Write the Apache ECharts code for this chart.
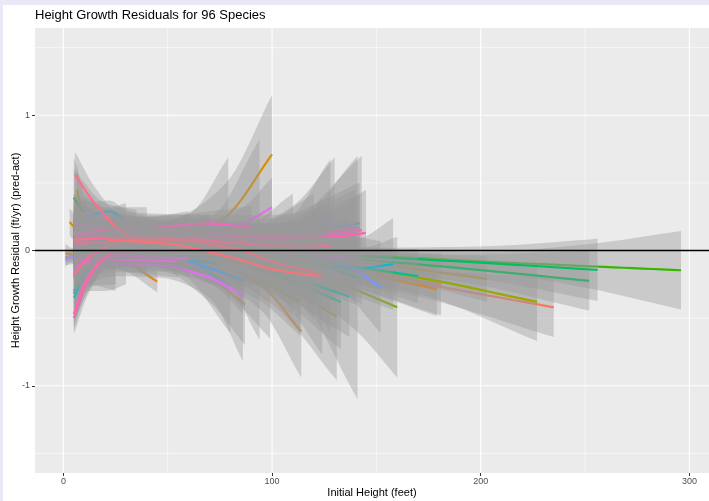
<!DOCTYPE html>
<html>
<head>
<meta charset="utf-8">
<title>Height Growth Residuals for 96 Species</title>
<script src="https://cdn.jsdelivr.net/npm/echarts@6/dist/echarts.min.js"></script>
<style>
  html, body { margin: 0; padding: 0; background: #E8E8F6; }
  #chart { position: absolute; left: 3px; top: 5px; width: 706px; height: 496px; background: #fff; }
</style>
</head>
<body>
<div id="chart"></div>
<script>
// Axis breaks
const xMajor = [0, 100, 200, 300];
const xMinor = [50, 150, 250];
const yMajor = [-1, 0, 1];
const yMinor = [-1.5, -0.5, 0.5, 1.5];

// Per-species smoothed fit: initial heights (ft) where the fit is sampled,
// fitted residual (ft/yr) and half-width of the confidence band, row by row.
const speciesHeights = [
  [5,30,60,90],
  [20,60,110,170,235],
  [5,40,70,87],
  [10,60,120,181],
  [5,20,40,60],
  [5,50,94,114],
  [5,28,45],
  [20,60,100,140,179],
  [1,4,8],
  [5,25,50,75],
  [30,56,78,100],
  [10,50,100,150,203],
  [3,10,25],
  [5,13,27,40],
  [20,60,100,131],
  [5,20,35],
  [1,5,10],
  [10,50,78,99],
  [6.4,9,15,30],
  [5,30,60,90,120],
  [5,40,70],
  [15,60,110,170,227],
  [10,60,94,113.5],
  [5,20,45,70],
  [40,80,110,140,160],
  [5,15,30],
  [5,30,60,100,140],
  [5,20,40],
  [10,50,90,130],
  [60,100,150,200,250,296],
  [5,15,30],
  [5,40,80],
  [5,10,20],
  [5,30,60,90],
  [40,80,130,190,252],
  [5,25,50],
  [50,90,140,200,256],
  [5,20,40,60],
  [5,40,80,120],
  [5,12,25],
  [30,70,100,140,170],
  [20,60,100,133],
  [5,20,40],
  [20,60,100,137],
  [30,70,110,141],
  [20,60,100,142],
  [5,10,20,30],
  [5,30,55],
  [5,12,25,40],
  [5,30,60,100],
  [5,20,40,60],
  [5,12,25],
  [40,80,120,142,158],
  [5,20,35],
  [7,15,22,30,40,51,70],
  [10,30,56,80],
  [5,15,30,50],
  [5,30,60,90,120],
  [5,12,20],
  [5,25,50,75],
  [10,40,60,79],
  [5,20,40],
  [5,30,60,90],
  [10,40,72,86],
  [5,20,45],
  [30,70,110,133,152],
  [5,25,50,80,110],
  [5,15,30],
  [1,3,5],
  [10,25,50,80,110,140],
  [5,20,40,70],
  [5,12,25,40],
  [20,60,90,110,130],
  [5,30,60],
  [5,20,40,60],
  [40,80,110,136],
  [6.5,25,46,70,86],
  [30,55,75,86,100],
  [5,20,40,60],
  [5,25,55],
  [10,40,70,94],
  [5,15,30,50],
  [5,30,60,90,120],
  [5,20,40,60],
  [10,40,70,110,142],
  [20,50,80,104,143],
  [5,20,45,70,90],
  [5,12,20,30,45],
  [30,70,100,128,145],
  [5,10,18,30,50,70],
  [5,20,50,80,110],
  [5,12,25,40],
  [5,40,80,104,128],
  [5.5,15,30,45],
  [21,50,80,104,120],
  [21,50,80,104,124]
];

const speciesFit = [
  [0.05,0.08,0.05,-0.02],
  [0.1,0.05,-0.08,-0.24,-0.42],
  [0.1,0.0,-0.2,-0.4],
  [0.05,0.0,-0.1,-0.25],
  [0.15,0.1,0.05,0.0],
  [0.05,0.0,-0.25,-0.6],
  [0.02,-0.07,-0.23],
  [0.08,0.02,-0.06,-0.16,-0.285],
  [-0.02,-0.03,-0.04],
  [0.1,0.05,0.0,-0.05],
  [-0.02,0.05,0.25,0.71],
  [0.1,0.05,-0.02,-0.1,-0.21],
  [0.21,0.1,0.05],
  [0.0,-0.01,-0.05,-0.06],
  [0.05,0.0,-0.2,-0.49],
  [0.3,0.2,0.1],
  [-0.05,-0.05,-0.06],
  [0.05,0.0,-0.12,-0.24],
  [0.45,0.3,0.15,0.08],
  [0.0,0.05,0.02,-0.05,-0.1],
  [0.05,0.1,0.08],
  [0.1,0.03,-0.07,-0.2,-0.38],
  [0.05,-0.05,-0.22,-0.38],
  [0.1,0.12,0.05,-0.05],
  [0.1,0.0,-0.12,-0.29,-0.42],
  [-0.1,0.0,0.05],
  [0.05,0.05,0.0,-0.05,-0.1],
  [0.2,0.15,0.1],
  [0.05,0.02,-0.02,-0.08],
  [0.02,0.0,-0.04,-0.08,-0.115,-0.146],
  [0.15,0.1,0.05],
  [0.0,0.03,0.0],
  [0.39,0.28,0.15],
  [0.1,0.05,0.0,-0.05],
  [0.05,0.02,-0.05,-0.13,-0.225],
  [0.05,0.08,0.05],
  [0.05,0.0,-0.04,-0.09,-0.144],
  [0.12,0.08,0.03,0.0],
  [0.0,0.0,-0.05,-0.15],
  [-0.2,-0.1,0.0],
  [0.08,0.05,-0.02,-0.12,-0.19],
  [0.05,0.0,-0.17,-0.38],
  [0.22,0.22,0.2],
  [0.05,0.0,-0.15,-0.34],
  [0.1,0.05,-0.05,-0.2],
  [0.15,0.1,0.12,0.2],
  [-0.3,-0.15,0.0,0.05],
  [0.08,0.05,0.05],
  [-0.32,-0.1,0.05,0.08],
  [0.02,0.02,-0.02,-0.08],
  [-0.05,0.0,0.03,0.02],
  [-0.35,-0.15,0.0],
  [0.05,-0.02,-0.1,-0.13,-0.1],
  [0.02,0.04,0.03],
  [0.21,0.27,0.29,0.22,0.18,0.17,0.12],
  [0.05,0.0,-0.05,-0.27],
  [-0.05,-0.02,0.0,0.02],
  [0.1,0.08,0.05,0.0,-0.05],
  [-0.18,-0.05,0.02],
  [0.05,0.0,-0.05,-0.1],
  [0.1,0.1,0.12,0.2],
  [0.05,0.0,-0.02],
  [0.0,-0.02,-0.04,-0.08],
  [0.05,0.0,-0.14,-0.22],
  [0.15,0.1,0.05],
  [0.08,0.05,-0.01,-0.09,-0.27],
  [0.05,0.08,0.05,0.0,-0.03],
  [0.0,0.05,0.08],
  [-0.07,-0.05,-0.04],
  [0.28,0.21,0.19,0.18,0.17,0.2],
  [0.05,0.1,0.12,0.1],
  [0.12,0.15,0.12,0.08],
  [0.1,0.05,0.08,0.13,0.25],
  [-0.05,0.0,0.02],
  [0.2,0.18,0.16,0.15],
  [0.05,0.02,-0.02,-0.05],
  [-0.11,-0.1,-0.11,-0.2,-0.33],
  [0.12,0.12,0.15,0.2,0.32],
  [0.0,-0.04,-0.05,-0.06],
  [-0.07,-0.07,-0.08],
  [0.1,0.12,0.1,0.08],
  [0.2,0.18,0.14,0.1],
  [0.12,0.1,0.08,0.05,0.02],
  [-0.12,-0.05,0.0,0.03],
  [0.12,0.06,0.06,0.1,0.17],
  [0.15,0.15,0.12,0.08,0.15],
  [0.12,0.15,0.17,0.2,0.17],
  [-0.5,-0.22,-0.05,0.05,0.1],
  [0.1,0.1,0.1,0.1,0.13],
  [-0.47,-0.25,-0.08,0.03,0.08,0.1],
  [0.05,0.06,0.08,0.06,0.02],
  [-0.18,-0.05,0.05,0.1],
  [0.08,0.1,0.06,0.035,0.035],
  [0.56,0.35,0.12,0.05],
  [0.08,0.08,0.02,-0.1,-0.16],
  [0.08,0.05,-0.05,-0.15,-0.19]
];

const speciesBand = [
  [0.22,0.1,0.1,0.2],
  [0.15,0.09,0.08,0.1,0.22],
  [0.22,0.1,0.18,0.3],
  [0.15,0.09,0.1,0.23],
  [0.22,0.1,0.1,0.18],
  [0.22,0.1,0.18,0.34],
  [0.14,0.08,0.08],
  [0.14,0.09,0.08,0.12,0.2],
  [0.07,0.05,0.06],
  [0.18,0.1,0.1,0.18],
  [0.14,0.2,0.25,0.44],
  [0.14,0.09,0.07,0.08,0.17],
  [0.1,0.1,0.12],
  [0.12,0.08,0.09,0.12],
  [0.14,0.1,0.2,0.47],
  [0.3,0.15,0.2],
  [0.06,0.05,0.08],
  [0.14,0.1,0.2,0.41],
  [0.2,0.14,0.1,0.14],
  [0.14,0.09,0.09,0.12,0.22],
  [0.14,0.1,0.15],
  [0.14,0.09,0.08,0.12,0.29],
  [0.14,0.1,0.15,0.25],
  [0.22,0.1,0.1,0.2],
  [0.14,0.1,0.15,0.3,0.52],
  [0.18,0.1,0.14],
  [0.14,0.09,0.09,0.12,0.3],
  [0.22,0.1,0.12],
  [0.14,0.09,0.12,0.3],
  [0.1,0.08,0.06,0.07,0.16,0.29],
  [0.25,0.12,0.14],
  [0.14,0.09,0.14],
  [0.3,0.15,0.15],
  [0.16,0.09,0.1,0.2],
  [0.14,0.09,0.07,0.1,0.22],
  [0.16,0.09,0.12],
  [0.12,0.08,0.06,0.12,0.23],
  [0.16,0.09,0.09,0.14],
  [0.14,0.09,0.1,0.25],
  [0.2,0.15,0.3],
  [0.14,0.09,0.08,0.12,0.2],
  [0.14,0.1,0.15,0.35],
  [0.2,0.1,0.12],
  [0.14,0.1,0.15,0.3],
  [0.16,0.12,0.25,0.9],
  [0.14,0.1,0.12,0.3],
  [0.15,0.15,0.3,0.3],
  [0.16,0.09,0.12],
  [0.2,0.2,0.1,0.12],
  [0.14,0.09,0.1,0.2],
  [0.16,0.09,0.09,0.14],
  [0.2,0.12,0.25],
  [0.12,0.1,0.15,0.22,0.34],
  [0.12,0.09,0.1],
  [0.15,0.09,0.08,0.08,0.08,0.09,0.15],
  [0.14,0.09,0.12,0.34],
  [0.14,0.09,0.09,0.12],
  [0.14,0.09,0.09,0.12,0.22],
  [0.15,0.15,0.12],
  [0.14,0.09,0.1,0.17],
  [0.14,0.1,0.15,0.49],
  [0.14,0.09,0.12],
  [0.14,0.09,0.1,0.2],
  [0.14,0.09,0.12,0.25],
  [0.16,0.09,0.12],
  [0.12,0.09,0.1,0.2,0.34],
  [0.14,0.09,0.09,0.12,0.45],
  [0.16,0.09,0.14],
  [0.05,0.04,0.05],
  [0.12,0.08,0.08,0.08,0.1,0.25],
  [0.16,0.09,0.09,0.16],
  [0.16,0.09,0.09,0.12],
  [0.12,0.09,0.1,0.2,0.44],
  [0.14,0.09,0.12],
  [0.16,0.09,0.09,0.14],
  [0.12,0.1,0.15,0.3],
  [0.16,0.09,0.09,0.15,0.49],
  [0.12,0.09,0.09,0.12,0.22],
  [0.14,0.09,0.09,0.14],
  [0.14,0.09,0.12],
  [0.14,0.09,0.15,0.74],
  [0.2,0.09,0.09,0.12],
  [0.14,0.09,0.09,0.12,0.4],
  [0.16,0.09,0.09,0.16],
  [0.14,0.09,0.09,0.12,0.25],
  [0.12,0.09,0.09,0.12,0.55],
  [0.16,0.09,0.08,0.09,0.16],
  [0.12,0.1,0.08,0.08,0.1],
  [0.12,0.09,0.1,0.18,0.32],
  [0.12,0.1,0.08,0.08,0.08,0.12],
  [0.14,0.08,0.08,0.09,0.2],
  [0.14,0.09,0.08,0.1],
  [0.14,0.08,0.09,0.15,0.64],
  [0.17,0.12,0.1,0.12],
  [0.1,0.08,0.08,0.15,0.35],
  [0.1,0.08,0.09,0.2,0.58]
];

const FONT = '"Liberation Sans", Arial, Helvetica, sans-serif';

// Evenly spaced HCL hues (chroma 100, luminance 65), one per species
function hclHex(h, c, l) {
  const hr = h * Math.PI / 180;
  const U = c * Math.cos(hr), V = c * Math.sin(hr);
  const Xn = 0.95047, Yn = 1, Zn = 1.08883;
  const den = Xn + 15 * Yn + 3 * Zn;
  const un = 4 * Xn / den, vn = 9 * Yn / den;
  const Y = l > 8 ? Yn * Math.pow((l + 16) / 116, 3) : Yn * l / 903.3;
  const up = U / (13 * l) + un, vp = V / (13 * l) + vn;
  const X = Y * 9 * up / (4 * vp);
  const Z = Y * (12 - 3 * up - 20 * vp) / (4 * vp);
  const lin = [
    3.2404542 * X - 1.5371385 * Y - 0.4985314 * Z,
    -0.9692660 * X + 1.8760108 * Y + 0.0415560 * Z,
    0.0556434 * X - 0.2040259 * Y + 1.0572252 * Z
  ];
  return '#' + lin.map(v => {
    v = v <= 0.0031308 ? 12.92 * v : 1.055 * Math.pow(v, 1 / 2.4) - 0.055;
    v = Math.max(0, Math.min(1, v));
    return Math.round(v * 255).toString(16).padStart(2, '0');
  }).join('');
}
const nSpecies = speciesHeights.length;
const palette = speciesHeights.map((_, i) => hclHex(15 + 360 * i / nSpecies, 100, 65));

// Monotone cubic through pixel points (sorted by x) for a smooth stroke
function smoothPixels(pts, seg) {
  const n = pts.length;
  if (n < 3) return pts.slice();
  const dx = [], m = [];
  for (let i = 0; i < n - 1; i++) {
    dx[i] = pts[i + 1][0] - pts[i][0];
    m[i] = (pts[i + 1][1] - pts[i][1]) / dx[i];
  }
  const t = new Array(n);
  t[0] = m[0];
  t[n - 1] = m[n - 2];
  for (let i = 1; i < n - 1; i++) {
    if (m[i - 1] * m[i] <= 0) { t[i] = 0; continue; }
    const w1 = 2 * dx[i] + dx[i - 1], w2 = dx[i] + 2 * dx[i - 1];
    t[i] = (w1 + w2) / (w1 / m[i - 1] + w2 / m[i]);
  }
  const out = [];
  for (let i = 0; i < n - 1; i++) {
    const h = dx[i], y0 = pts[i][1], y1 = pts[i + 1][1];
    for (let k = 0; k < seg; k++) {
      const s = k / seg, s2 = s * s, s3 = s2 * s;
      const y = (2 * s3 - 3 * s2 + 1) * y0 + (s3 - 2 * s2 + s) * h * t[i]
              + (-2 * s3 + 3 * s2) * y1 + (s3 - s2) * h * t[i + 1];
      out.push([pts[i][0] + s * h, y]);
    }
  }
  out.push(pts[n - 1].slice());
  return out;
}

function renderGrid(params, api) {
  const cs = params.coordSys;
  const children = [];
  const vline = (v, w) => {
    const x = api.coord([v, 0])[0];
    children.push({ type: 'line', shape: { x1: x, y1: cs.y, x2: x, y2: cs.y + cs.height },
      style: { stroke: '#FFFFFF', lineWidth: w } });
  };
  const hline = (v, w) => {
    const y = api.coord([0, v])[1];
    children.push({ type: 'line', shape: { x1: cs.x, y1: y, x2: cs.x + cs.width, y2: y },
      style: { stroke: '#FFFFFF', lineWidth: w } });
  };
  xMinor.forEach(v => vline(v, 0.55));
  yMinor.forEach(v => hline(v, 0.55));
  xMajor.forEach(v => vline(v, 1.1));
  yMajor.forEach(v => hline(v, 1.1));
  return { type: 'group', children };
}

function renderSpecies(params, api) {
  const i = api.value(0);
  const xs = speciesHeights[i], fit = speciesFit[i], hw = speciesBand[i];
  const mid = [], hi = [], lo = [];
  for (let k = 0; k < xs.length; k++) {
    mid.push(api.coord([xs[k], fit[k]]));
    hi.push(api.coord([xs[k], fit[k] + hw[k]]));
    lo.push(api.coord([xs[k], fit[k] - hw[k]]));
  }
  const hiS = smoothPixels(hi, 10), loS = smoothPixels(lo, 10), midS = smoothPixels(mid, 10);
  return {
    type: 'group',
    children: [
      { type: 'polygon', shape: { points: hiS.concat(loS.reverse()) },
        style: { fill: 'rgba(153,153,153,0.4)' } },
      { type: 'polyline', shape: { points: midS },
        style: { stroke: palette[i], lineWidth: 2.2, fill: null } }
    ]
  };
}

function renderZero(params, api) {
  const cs = params.coordSys;
  const y = api.coord([0, 0])[1];
  return { type: 'line', shape: { x1: cs.x, y1: y, x2: cs.x + cs.width, y2: y },
    style: { stroke: '#000000', lineWidth: 1.3 } };
}

const chart = echarts.init(document.getElementById('chart'), null, { renderer: 'canvas' });
chart.setOption({
  backgroundColor: '#FFFFFF',
  animation: false,
  title: {
    text: 'Height Growth Residuals for 96 Species',
    left: 32, top: 4, padding: 0,
    textStyle: { fontFamily: FONT, fontSize: 13, fontWeight: 'normal', color: '#000000' }
  },
  grid: {
    left: 32, right: 0, top: 23, bottom: 28,
    outerBoundsMode: 'none', containLabel: false,
    show: true, backgroundColor: '#EBEBEB', borderWidth: 0
  },
  xAxis: {
    type: 'value', min: -13.6, max: 309.4,
    axisLine: { show: false, onZero: false },
    axisTick: { show: true, customValues: xMajor, length: 3, lineStyle: { color: '#333333', width: 1 } },
    axisLabel: { customValues: xMajor, color: '#4D4D4D', fontSize: 9, fontFamily: FONT, margin: 4 },
    splitLine: { show: false },
    name: 'Initial Height (feet)', nameLocation: 'middle', nameGap: 14, nameMoveOverlap: false,
    nameTextStyle: { fontFamily: FONT, fontSize: 11, color: '#000000' }
  },
  yAxis: {
    type: 'value', min: -1.645, max: 1.645,
    axisLine: { show: false, onZero: false },
    axisTick: { show: true, customValues: yMajor, length: 3, lineStyle: { color: '#333333', width: 1 } },
    axisLabel: { customValues: yMajor, color: '#4D4D4D', fontSize: 9, fontFamily: FONT, margin: 5 },
    splitLine: { show: false },
    name: 'Height Growth Residual (ft/yr) (pred-act)', nameLocation: 'middle', nameGap: 14,
    nameMoveOverlap: false, nameRotate: 90,
    nameTextStyle: { fontFamily: FONT, fontSize: 11, color: '#000000' }
  },
  series: [
    { type: 'custom', name: 'grid', silent: true, z: 1, clip: true,
      data: [[0, 0]], renderItem: renderGrid },
    { type: 'custom', name: 'species', silent: true, z: 2, clip: true,
      data: speciesHeights.map((_, i) => [i, 0]), renderItem: renderSpecies },
    { type: 'custom', name: 'zero', silent: true, z: 3, clip: true,
      data: [[0, 0]], renderItem: renderZero }
  ]
});
</script>
</body>
</html>
